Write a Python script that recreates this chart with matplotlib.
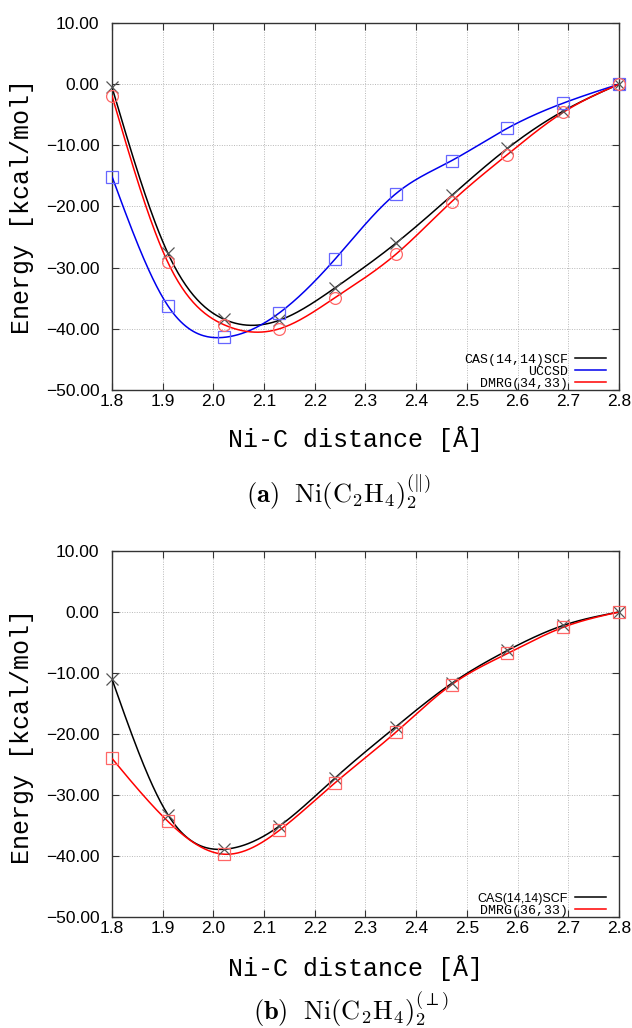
import numpy as np
import matplotlib
matplotlib.use("Agg")
import matplotlib.pyplot as plt

plt.rcParams['mathtext.fontset'] = 'cm'

# ---------------- data ----------------
dist = [1.8, 1.91, 2.02, 2.13, 2.24, 2.36, 2.47, 2.58, 2.69, 2.8]

cas_a = [-0.5, -27.6, -38.4, -38.6, -33.3, -26.0, -18.2, -10.5, -4.4, 0.0]
uccsd_a = [-15.1, -36.2, -41.4, -37.4, -28.6, -17.9, -12.5, -7.2, -3.1, 0.0]
dmrg_a = [-1.9, -29.1, -39.3, -40.0, -34.9, -27.8, -19.2, -11.5, -4.6, 0.0]

cas_b = [-11.0, -33.2, -38.9, -35.1, -27.2, -18.8, -11.7, -6.3, -2.2, 0.0]
dmrg_b = [-24.0, -34.3, -39.7, -35.8, -28.0, -19.7, -11.9, -6.8, -2.5, 0.0]

xticks = [1.8, 1.9, 2.0, 2.1, 2.2, 2.3, 2.4, 2.5, 2.6, 2.7, 2.8]
yticks = [-50, -40, -30, -20, -10, 0, 10]

labels_a = ['CAS(14,14)SCF', 'UCCSD', 'DMRG(34,33)']
labels_b = ['CAS(14,14)SCF', 'DMRG(36,33)']


def natural_spline(x, y, num=400):
    """Smooth curve through the data (natural cubic spline, like gnuplot csplines)."""
    x = np.asarray(x, float)
    y = np.asarray(y, float)
    n = len(x)
    h = np.diff(x)
    A = np.zeros((n, n))
    r = np.zeros(n)
    A[0, 0] = 1.0
    A[-1, -1] = 1.0
    for i in range(1, n - 1):
        A[i, i - 1] = h[i - 1]
        A[i, i] = 2 * (h[i - 1] + h[i])
        A[i, i + 1] = h[i]
        r[i] = 6 * ((y[i + 1] - y[i]) / h[i] - (y[i] - y[i - 1]) / h[i - 1])
    M = np.linalg.solve(A, r)
    xs = np.linspace(x[0], x[-1], num)
    idx = np.clip(np.searchsorted(x, xs) - 1, 0, n - 2)
    x0, x1 = x[idx], x[idx + 1]
    hh = x1 - x0
    a = (x1 - xs) / hh
    b = (xs - x0) / hh
    ys = (a * y[idx] + b * y[idx + 1]
          + ((a ** 3 - a) * M[idx] + (b ** 3 - b) * M[idx + 1]) * hh ** 2 / 6)
    return xs, ys


W, H = 632, 1028
fig = plt.figure(figsize=(W / 100, H / 100), dpi=100)

mono = 'Liberation Mono'
sans = 'Liberation Sans'


def style_axes(ax):
    ax.set_xlim(1.8, 2.8)
    ax.set_ylim(-50, 10)
    ax.set_xticks(xticks)
    ax.set_yticks(yticks)
    ax.set_xticklabels([f'{t:.1f}' for t in xticks], fontsize=12.5, family=sans)
    ax.set_yticklabels([f'{t:.2f}'.replace('-', '\u2212') for t in yticks],
                       fontsize=12.5, family=sans)
    ax.tick_params(direction='in', length=5, width=0.8, color='#333333',
                   top=True, right=True, pad=4)
    ax.tick_params(axis='y', pad=9)
    ax.tick_params(axis='x', pad=3)
    ax.grid(True, linestyle=(0, (1, 1.5)), color='#b8b8b8', linewidth=0.7)
    for s in ax.spines.values():
        s.set_color('#333333')
        s.set_linewidth(1.0)


lw = 1.1
ms = 8.5

# ---------------- panel (a) ----------------
ax1 = fig.add_axes([112 / W, 1 - 390 / H, 507 / W, 367 / H])
style_axes(ax1)
for ys, col, mcol, mk, lab in [
    (cas_a, 'black', '#555555', 'x', labels_a[0]),
    (uccsd_a, '#0000ee', '#6666ff', 's', labels_a[1]),
    (dmrg_a, '#ff0000', '#ff6666', 'o', labels_a[2]),
]:
    xs, yy = natural_spline(dist, ys)
    ax1.plot(xs, yy, color=col, lw=lw, label=lab, zorder=3)
    ax1.plot(dist, ys, linestyle='none', marker=mk, markersize=ms,
             markerfacecolor='none', markeredgecolor=mcol, markeredgewidth=0.9,
             zorder=4, clip_on=False)

leg1 = ax1.legend(loc='lower right', bbox_to_anchor=(0.975, 0.0),
                  frameon=False, markerfirst=False, handlelength=2.4,
                  handletextpad=0.5, labelspacing=0.0, borderpad=0,
                  borderaxespad=0, prop={'family': mono, 'size': 9.5})

fig.text(22 / W, 1 - 207 / H, 'Energy [kcal/mol]', rotation=90, ha='center',
         va='center', family=mono, fontsize=18)
fig.text(356 / W, 1 - 439 / H, 'Ni-C distance [Å]', ha='center', va='center',
         family=mono, fontsize=18)
fig.text(338 / W, 1 - 492 / H,
         r'$\mathbf{(a)}\ \ \mathrm{Ni(C_2H_4)}_2^{(\Vert)}$',
         ha='center', va='center', fontsize=19)

# ---------------- panel (b) ----------------
ax2 = fig.add_axes([112 / W, 1 - 917 / H, 507 / W, 366 / H])
style_axes(ax2)
for ys, col, mcol, mk, lab in [
    (cas_b, 'black', '#555555', 'x', labels_b[0]),
    (dmrg_b, '#ff0000', '#ff6666', 's', labels_b[1]),
]:
    xs, yy = natural_spline(dist, ys)
    ax2.plot(xs, yy, color=col, lw=lw, label=lab, zorder=3)
    ax2.plot(dist, ys, linestyle='none', marker=mk, markersize=ms,
             markerfacecolor='none', markeredgecolor=mcol, markeredgewidth=0.9,
             zorder=4, clip_on=False)

leg2 = ax2.legend(loc='lower right', bbox_to_anchor=(0.975, 0.0),
                  frameon=False, markerfirst=False, handlelength=2.4,
                  handletextpad=0.5, labelspacing=0.0, borderpad=0,
                  borderaxespad=0, prop={'family': mono, 'size': 9.5})
texts = leg2.get_texts()
texts[0].set_fontfamily(sans)
texts[0].set_fontsize(9)

fig.text(22 / W, 1 - 737 / H, 'Energy [kcal/mol]', rotation=90, ha='center',
         va='center', family=mono, fontsize=18)
fig.text(356 / W, 1 - 968 / H, 'Ni-C distance [Å]', ha='center', va='center',
         family=mono, fontsize=18)
fig.text(351 / W, 1 - 1009 / H,
         r'$\mathbf{(b)}\ \ \mathrm{Ni(C_2H_4)}_2^{(\perp)}$',
         ha='center', va='center', fontsize=19)

fig.savefig('out.png', dpi=100)
